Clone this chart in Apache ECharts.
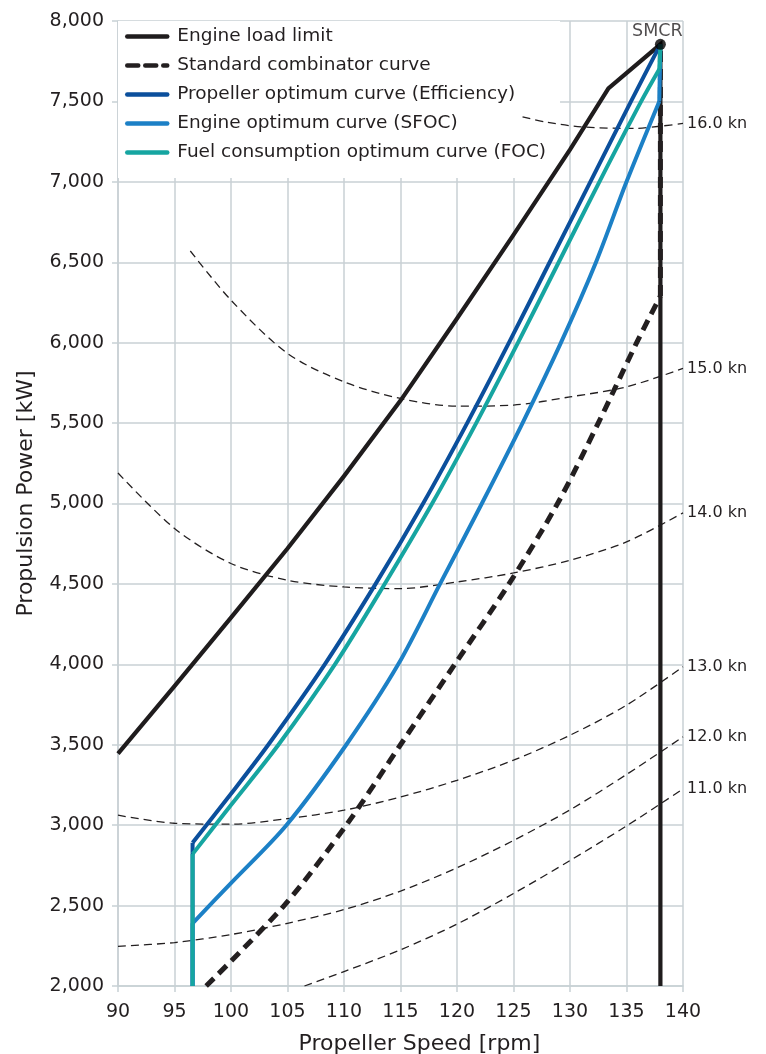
<!DOCTYPE html>
<html>
<head>
<meta charset="utf-8">
<script src="https://cdn.jsdelivr.net/npm/echarts@6/dist/echarts.min.js"></script>
<style>
  html, body { margin: 0; padding: 0; background: #ffffff; }
  #chart { width: 766px; height: 1054px; }
</style>
</head>
<body>
<div id="chart"></div>
<script>
// ---- Data ----
const xTicks = { min: 90, max: 140, step: 5 };
const yTicks = { min: 2000, max: 8000, step: 500 };

const smcrPoint = [138, 7855];
const engineLoadLimit = [[90,3445],[95,3865],[100,4290],[105,4720],[110,5170],[115,5640],[120,6150],[125,6670],[130,7200],[133.4,7581],[138,7855],[138,2000]];
const standardCombinator = [[97.8,2000],[104.7,2500],[110.2,3000],[115.0,3500],[119.8,4000],[124.6,4500],[128.9,5000],[132.5,5500],[135.9,6000],[138,6290]];
const propellerOptimum = [[96.6,2890],[100,3195],[103.3,3500],[108.3,4000],[112.8,4500],[117.0,5000],[120.9,5500],[124.6,6000],[128.2,6500],[131.8,7000],[135.4,7500],[138,7855]];
const engineOptimum = [[96.6,2390],[100,2640],[104.9,3000],[110.2,3500],[114.8,4000],[118.5,4500],[122.2,5000],[125.8,5500],[129.2,6000],[132.3,6500],[135.0,7000],[137.9,7500]];
const fuelOptimum = [[96.6,2820],[100,3125],[104.2,3500],[109.2,4000],[113.6,4500],[117.8,5000],[121.7,5500],[125.4,6000],[129.0,6500],[132.6,7000],[136.3,7500],[137.9,7700]];

const speed11 = [[106.5,2000],[110,2090],[115,2225],[120,2385],[125,2575],[130,2780],[135,2995],[140,3225]];
const speed12 = [[90,2247],[95,2270],[100,2320],[105,2390],[110,2475],[115,2590],[120,2735],[125,2905],[130,3095],[135,3315],[140,3549]];
const speed13 = [[90,3062],[95,3012],[100,3006],[105,3041],[110,3093],[115,3175],[120,3279],[125,3404],[130,3559],[135,3746],[140,3985]];
const speed14 = [[90,5190],[95,4845],[100,4627],[105,4523],[110,4481],[115,4471],[120,4512],[125,4568],[130,4647],[135,4761],[140,4942]];
const speed15 = [[96.4,6570],[100,6264],[105,5933],[110,5756],[115,5653],[120,5605],[125,5612],[130,5663],[135,5725],[140,5840]];
const speed16 = [[125.8,7404],[128,7370],[131,7342],[135.6,7332],[138,7346],[140,7363]];

const speedLabels = ['11.0 kn', '12.0 kn', '13.0 kn', '14.0 kn', '15.0 kn', '16.0 kn'];
const speedData = [speed11, speed12, speed13, speed14, speed15, speed16];

const legendNames = [
  'Engine load limit',
  'Standard combinator curve',
  'Propeller optimum curve (Efficiency)',
  'Engine optimum curve (SFOC)',
  'Fuel consumption optimum curve (FOC)'
];

// ---- Styles ----
const gridColor = '#c8d1d5';
const textColor = '#231f20';
const FONT = 'DejaVu Sans';
const C_ENGINE = '#1f1c1d';
const C_COMB = '#231f20';
const C_PROP = '#0b4f9c';
const C_SFOC = '#1c80c6';
const C_FOC = '#16a5a1';

const chart = echarts.init(document.getElementById('chart'), null, { renderer: 'canvas' });

const series = [];
speedData.forEach((d, i) => {
  series.push({
    name: speedLabels[i],
    type: 'line',
    data: d,
    symbol: 'none',
    smooth: 0.3,
    silent: true,
    lineStyle: { color: '#231f20', width: 1.3, type: [8, 5] },
    endLabel: {
      show: true,
      formatter: speedLabels[i],
      color: textColor,
      fontFamily: FONT,
      fontSize: 16,
      distance: 4
    },
    z: 2
  });
});

function line(name, data, color, width, dash, smooth) {
  return {
    name: name,
    type: 'line',
    data: data,
    symbol: 'none',
    smooth: smooth || false,
    lineStyle: { color: color, width: width, type: dash || 'solid', cap: 'butt', join: 'miter' },
    itemStyle: { color: color },
    z: 3
  };
}
const first = arr => arr[0];
const last = arr => arr[arr.length - 1];

// Engine load limit (polyline incl. max-speed vertical)
series.push(line(legendNames[0], engineLoadLimit, C_ENGINE, 4.2));
// Standard combinator: curve + vertical to SMCR
series.push(line(legendNames[1], standardCombinator, C_COMB, 5, [11, 7], 0.3));
series.push(line(legendNames[1], [last(standardCombinator), smcrPoint], C_COMB, 5, [11, 7]));
// Propeller optimum: floor vertical + curve
series.push(line(legendNames[2], [[first(propellerOptimum)[0], yTicks.min], first(propellerOptimum)], C_PROP, 4));
series.push(line(legendNames[2], propellerOptimum, C_PROP, 4, null, 0.3));
// Engine optimum (SFOC)
series.push(line(legendNames[3], [[first(engineOptimum)[0], yTicks.min], first(engineOptimum)], C_SFOC, 4));
series.push(line(legendNames[3], engineOptimum, C_SFOC, 4, null, 0.3));
series.push(line(legendNames[3], [last(engineOptimum), smcrPoint], C_SFOC, 4));
// Fuel consumption optimum (FOC)
series.push(line(legendNames[4], [[first(fuelOptimum)[0], yTicks.min], first(fuelOptimum)], C_FOC, 4));
series.push(line(legendNames[4], fuelOptimum, C_FOC, 4, null, 0.3));
series.push(line(legendNames[4], [last(fuelOptimum), smcrPoint], C_FOC, 4));

series.push({
  name: 'SMCR',
  type: 'scatter',
  data: [smcrPoint],
  symbolSize: 11,
  itemStyle: { color: '#000' },
  label: {
    show: true,
    position: 'top',
    formatter: 'SMCR',
    color: textColor,
    fontFamily: FONT,
    fontSize: 17.5,
    distance: 2,
    offset: [-3, 4]
  },
  z: 5
});

const option = {
  animation: false,
  backgroundColor: '#ffffff',
  textStyle: { fontFamily: FONT },
  grid: { left: 118, top: 21, width: 565, height: 965, containLabel: false, outerBoundsMode: 'none' },
  legend: {
    data: legendNames,
    orient: 'vertical',
    left: 118,
    top: 21,
    z: 1,
    backgroundColor: '#ffffff',
    padding: [6, 14, 16, 7],
    itemWidth: 40,
    itemHeight: 4,
    itemGap: 10,
    selectedMode: false,
    itemStyle: { opacity: 0 },
    lineStyle: { width: 4.5, cap: 'round' },
    textStyle: { color: textColor, fontFamily: FONT, fontSize: 18.5, lineHeight: 18, height: 18, padding: [0, 0, 0, 5] }
  },
  xAxis: {
    type: 'value',
    min: xTicks.min,
    max: xTicks.max,
    interval: xTicks.step,
    name: 'Propeller Speed [rpm]',
    nameLocation: 'middle',
    nameGap: 47,
    nameTextStyle: { color: textColor, fontFamily: FONT, fontSize: 22, padding: [0, 0, 0, 38] },
    axisLine: { show: true, onZero: false, lineStyle: { color: gridColor, width: 1.5 } },
    axisTick: { show: true, length: 6, lineStyle: { color: gridColor, width: 1.5 } },
    axisLabel: { color: textColor, fontFamily: FONT, fontSize: 19, margin: 17 },
    splitLine: { show: true, lineStyle: { color: gridColor, width: 1.5 } }
  },
  yAxis: {
    type: 'value',
    min: yTicks.min,
    max: yTicks.max,
    interval: yTicks.step,
    name: 'Propulsion Power [kW]',
    nameLocation: 'middle',
    nameGap: 81,
    nameTextStyle: { color: textColor, fontFamily: FONT, fontSize: 22, padding: [0, 0, 0, 20] },
    axisLine: { show: true, onZero: false, lineStyle: { color: gridColor, width: 1.5 } },
    axisTick: { show: true, length: 6, lineStyle: { color: gridColor, width: 1.5 } },
    axisLabel: {
      color: textColor, fontFamily: FONT, fontSize: 19, margin: 14,
      formatter: v => v.toLocaleString('en-US')
    },
    splitLine: { show: true, lineStyle: { color: gridColor, width: 1.5 } }
  },
  series: series
};

chart.setOption(option);
</script>
</body>
</html>
